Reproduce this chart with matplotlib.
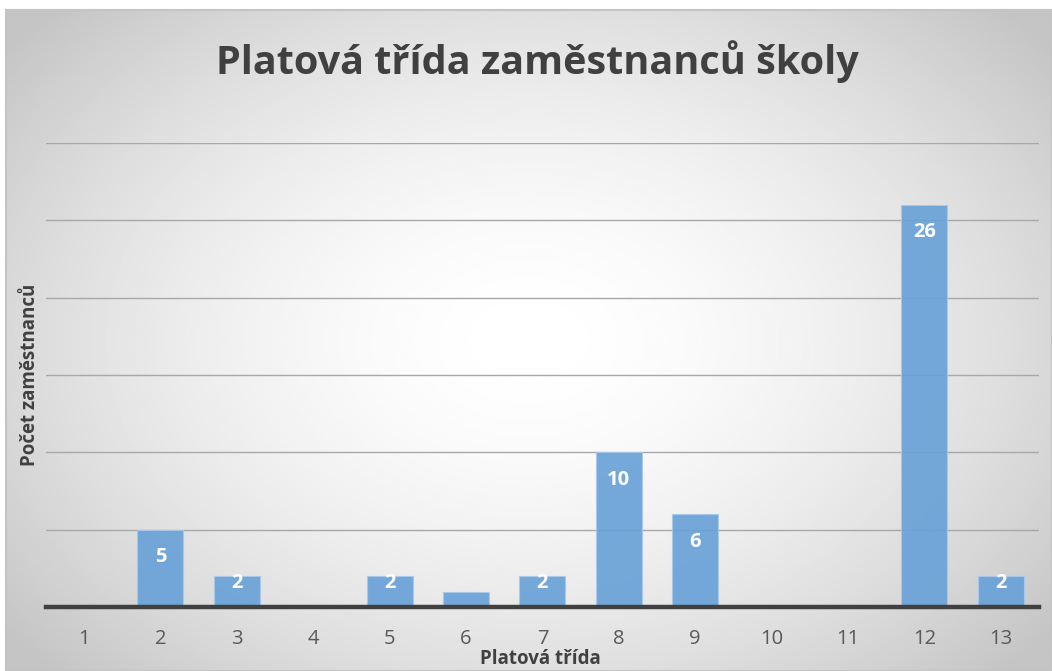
import numpy as np
import matplotlib.pyplot as plt

# Data
trida = ['1', '2', '3', '4', '5', '6', '7', '8', '9', '10', '11', '12', '13']
pocet = [0, 5, 2, 0, 2, 1, 2, 10, 6, 0, 0, 26, 2]

W, H = 1052, 671
fig = plt.figure(figsize=(W / 100, H / 100), dpi=100)
fig.patch.set_facecolor('white')

# Radial gradient background of the chart area
bg = fig.add_axes([6 / W, 0, 1 - 6 / W, 1 - 10 / H])
yy, xx = np.mgrid[0:1:300j, 0:1:450j]
r = np.sqrt(((xx - 0.5) / 0.64) ** 2 + ((yy - 0.5) / 0.72) ** 2)
shade = 1.0 - 0.23 * np.clip(r, 0, 1) ** 1.7
bg.imshow(shade, cmap='gray', vmin=0, vmax=1, aspect='auto', extent=[0, 1, 0, 1])
bg.set_xticks([])
bg.set_yticks([])
for s in bg.spines.values():
    s.set_color('#c4c4c4')
    s.set_linewidth(1.5)

ax = fig.add_axes([45.8 / W, (H - 607) / H, (1039 - 45.8) / W, (607 - 143) / H])
ax.patch.set_alpha(0)
x = np.arange(len(trida))
ax.bar(x, pocet, width=0.6, color='#6aa2d8', edgecolor='#a9c9ea', linewidth=0.8,
       alpha=0.92, zorder=3)

ax.set_xlim(-0.5, len(trida) - 0.5)
ax.set_ylim(0, 30)
ax.set_yticks([5, 10, 15, 20, 25, 30])
ax.yaxis.grid(True, color='#a8a8a8', linewidth=1.0, zorder=0)
ax.tick_params(axis='y', left=False, labelleft=False)
ax.tick_params(axis='x', bottom=False, pad=12, labelsize=14.5, labelcolor='#595959')
ax.set_xticks(x)
ax.set_xticklabels(trida, family='Open Sans')
for s in ['top', 'right', 'left']:
    ax.spines[s].set_visible(False)
ax.spines['bottom'].set_color('#404040')
ax.spines['bottom'].set_linewidth(3.2)
ax.spines['bottom'].set_zorder(4)

# Value labels
for xi, v in zip(x, pocet):
    if v >= 2:
        ax.text(xi, max(v - 1.78, 1.55), str(v), ha='center', va='center',
                color='white', fontsize=14.5, fontweight='bold', family='Open Sans', zorder=5)

fig.text(537 / W, 1 - 62 / H, 'Platová třída zaměstnanců školy', ha='center', va='center',
         fontsize=28.5, fontweight='bold', color='#404040', family='Open Sans')
fig.text(540 / W, 1 - 659 / H, 'Platová třída', ha='center', va='center',
         fontsize=13.5, fontweight='bold', color='#404040', family='Open Sans')
fig.text(30 / W, 1 - 375 / H, 'Počet zaměstnanců', ha='center', va='center', rotation=90,
         fontsize=13.5, fontweight='bold', color='#404040', family='Open Sans')

fig.savefig('out.png', dpi=100)
